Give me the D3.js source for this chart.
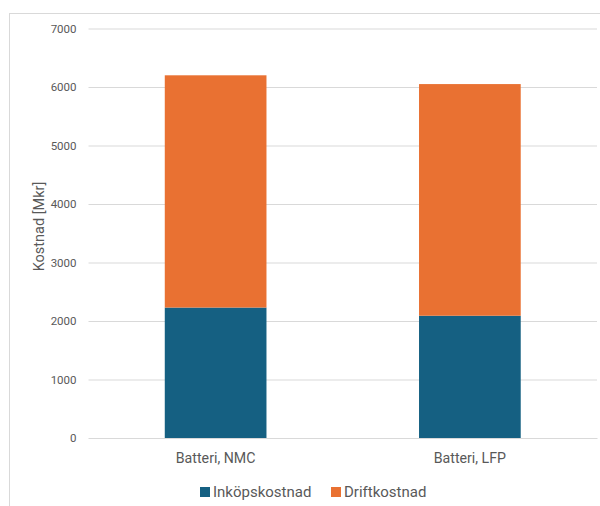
<!DOCTYPE html>
<html>
<head>
<meta charset="utf-8">
<script src="https://cdn.jsdelivr.net/npm/d3@7"></script>
<style>
  html, body { margin: 0; padding: 0; background: #fff; }
  svg { display: block; font-family: Roboto, "Open Sans", sans-serif; }
</style>
</head>
<body>
<svg id="chart" width="600" height="506"></svg>
<script>
// Cost per battery type (Mkr)
const categories = ["Batteri, NMC", "Batteri, LFP"];
const inkopskostnad = [2230, 2090];
const driftkostnad = [3970, 3960];
const seriesNames = ["Inköpskostnad", "Driftkostnad"];
const seriesColors = ["#156082", "#E97132"];
const yTicks = [0, 1000, 2000, 3000, 4000, 5000, 6000, 7000];

const svg = d3.select("#chart");
const W = 600, H = 506;

// outer chart frame
svg.append("rect")
  .attr("x", 9.5).attr("y", 13.5)
  .attr("width", W).attr("height", H)
  .attr("fill", "#fff").attr("stroke", "#d9d9d9").attr("stroke-width", 1);

const plot = { left: 88.5, right: 597, top: 28.5, bottom: 438 };

const x = d3.scaleBand()
  .domain(categories)
  .range([plot.left, plot.right])
  .paddingInner(0.6)
  .paddingOuter(0.3);

const y = d3.scaleLinear()
  .domain([0, 7000])
  .range([plot.bottom, plot.top]);

// gridlines and value labels
const yAxis = d3.axisLeft(y)
  .tickValues(yTicks)
  .tickFormat(d3.format("d"))
  .tickSize(-(plot.right - plot.left))
  .tickPadding(12);
const gy = svg.append("g").attr("transform", `translate(${plot.left},0)`).call(yAxis);
gy.select(".domain").remove();
gy.selectAll(".tick line").attr("stroke", "#d9d9d9").attr("stroke-width", 1);
gy.selectAll(".tick text")
  .attr("fill", "#595959").attr("font-size", 11.5)
  .attr("font-family", "Roboto, sans-serif");

// stacked bars
const rows = categories.map((c, i) => ({ cat: c, Inköpskostnad: inkopskostnad[i], Driftkostnad: driftkostnad[i] }));
const stack = d3.stack().keys(seriesNames)(rows);

svg.append("g").selectAll("g")
  .data(stack)
  .join("g")
  .attr("fill", (d, i) => seriesColors[i])
  .selectAll("rect")
  .data(d => d)
  .join("rect")
  .attr("x", d => x(d.data.cat))
  .attr("width", x.bandwidth())
  .attr("y", d => y(d[1]))
  .attr("height", d => y(d[0]) - y(d[1]));

// category axis
const xAxis = d3.axisBottom(x).tickSize(0).tickPadding(15);
const gx = svg.append("g").attr("transform", `translate(0,${plot.bottom})`).call(xAxis);
gx.select(".domain").attr("stroke", "#d9d9d9");
gx.selectAll(".tick text")
  .attr("fill", "#595959").attr("font-size", 14.2)
  .attr("font-family", "Roboto, sans-serif");

// y axis title
svg.append("text")
  .attr("transform", `translate(44,226.5) rotate(-90)`)
  .attr("text-anchor", "middle")
  .attr("fill", "#595959")
  .attr("font-size", 14.5)
  .text("Kostnad [Mkr]");

// legend
const legendX = [200, 331];
const lg = svg.append("g").selectAll("g")
  .data(seriesNames)
  .join("g")
  .attr("transform", (d, i) => `translate(${legendX[i]},487)`);
lg.append("rect").attr("width", 10).attr("height", 10).attr("fill", (d, i) => seriesColors[i]);
lg.append("text")
  .attr("x", 13).attr("y", 10)
  .attr("fill", "#595959").attr("font-size", 15)
  .text(d => d);
</script>
</body>
</html>
